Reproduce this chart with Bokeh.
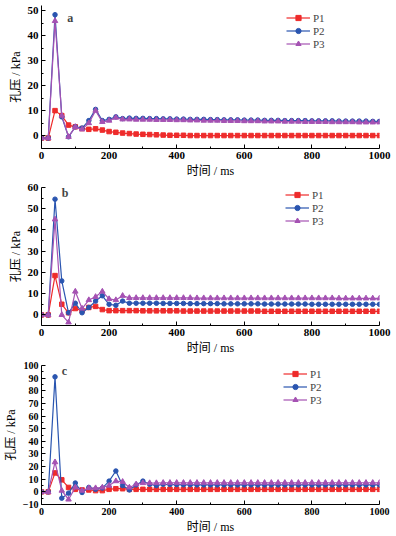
from bokeh.plotting import figure
from bokeh.layouts import column
from bokeh.models import Legend, LegendItem, Label, Range1d, FixedTicker
from bokeh.embed import file_html
from bokeh.resources import INLINE

# time samples (ms)
t_ms = list(range(0, 1001, 20))

# panel a
a_p1 = [-1.0, -1.0, 10.0, 8.0, 4.2, 3.5, 2.8, 2.5, 2.7, 2.2, 1.6, 1.3, 1.0, 0.8, 0.6, 0.5, 0.4, 0.3, 0.2, 0.1,
        0.1, 0.1, 0.0, 0.0, 0.0, 0.0, 0.0, 0.0, 0.0, 0.0, 0.0, 0.0, 0.0, 0.0, 0.0, 0.0, 0.0, 0.0, 0.0, 0.0,
        0.0, 0.0, 0.0, 0.0, 0.0, 0.0, 0.0, 0.0, 0.0, 0.0, 0.0]
a_p2 = [-1.0, -1.0, 48.5, 7.5, -0.5, 3.5, 3.0, 6.0, 10.5, 6.0, 6.5, 7.5, 6.8, 7.0, 6.9, 6.9, 6.8, 6.8, 6.7, 6.7,
        6.6, 6.6, 6.5, 6.5, 6.5, 6.4, 6.4, 6.3, 6.3, 6.3, 6.2, 6.2, 6.2, 6.1, 6.1, 6.1, 6.0, 6.0, 6.0, 6.0,
        5.9, 5.9, 5.9, 5.9, 5.8, 5.8, 5.8, 5.8, 5.8, 5.7, 5.7]
a_p3 = [-1.0, -1.0, 46.0, 8.0, -0.5, 3.5, 2.5, 5.0, 10.0, 5.5, 6.0, 7.2, 6.5, 6.5, 6.4, 6.4, 6.4, 6.3, 6.3, 6.3,
        6.2, 6.2, 6.1, 6.1, 6.0, 6.0, 6.0, 5.9, 5.9, 5.9, 5.8, 5.8, 5.8, 5.7, 5.7, 5.7, 5.6, 5.6, 5.6, 5.5,
        5.5, 5.5, 5.5, 5.4, 5.4, 5.4, 5.4, 5.3, 5.3, 5.3, 5.3]

# panel b
b_p1 = [0.0, 0.0, 18.5, 5.0, 1.0, 3.0, 2.0, 3.5, 4.0, 2.5, 2.0, 2.0, 2.0, 2.0, 2.0, 1.9, 1.9, 1.9, 1.9, 1.9,
        1.9, 1.8, 1.8, 1.8, 1.8, 1.8, 1.8, 1.8, 1.8, 1.8, 1.8, 1.8, 1.8, 1.7, 1.7, 1.7, 1.7, 1.7, 1.7, 1.7,
        1.7, 1.7, 1.7, 1.7, 1.7, 1.7, 1.7, 1.7, 1.7, 1.7, 1.7]
b_p2 = [0.0, 0.0, 54.5, 16.0, 1.0, 5.5, 1.0, 3.5, 6.5, 9.0, 5.0, 4.5, 6.5, 5.5, 5.5, 5.5, 5.5, 5.5, 5.4, 5.4,
        5.4, 5.4, 5.3, 5.3, 5.3, 5.3, 5.3, 5.2, 5.2, 5.2, 5.2, 5.2, 5.2, 5.1, 5.1, 5.1, 5.1, 5.1, 5.1, 5.1,
        5.0, 5.0, 5.0, 5.0, 5.0, 5.0, 5.0, 5.0, 5.0, 5.0, 5.0]
b_p3 = [0.0, 0.0, 45.0, 0.0, -3.5, 11.0, 3.0, 7.0, 8.5, 11.0, 7.5, 7.0, 9.0, 8.0, 8.0, 8.0, 8.0, 8.0, 8.0, 8.0,
        8.0, 8.0, 8.0, 7.9, 7.9, 7.9, 7.9, 7.9, 7.9, 7.9, 7.9, 7.9, 7.9, 7.9, 7.9, 7.9, 7.9, 7.9, 7.9, 7.9,
        7.9, 7.9, 7.9, 7.9, 7.8, 7.8, 7.8, 7.8, 7.8, 7.8, 7.8]

# panel c
c_p1 = [0.0, 0.0, 15.0, 9.5, 3.5, 2.0, 1.5, 1.5, 1.0, 1.0, 2.0, 2.5, 2.5, 2.0, 2.0, 2.0, 2.0, 2.0, 2.0, 2.0,
        2.0, 2.0, 2.0, 2.0, 2.0, 2.0, 2.0, 2.0, 2.0, 2.0, 2.0, 2.0, 2.0, 2.0, 2.0, 2.0, 2.0, 2.0, 2.0, 2.0,
        2.0, 2.0, 2.0, 2.0, 2.0, 2.0, 2.0, 2.0, 2.0, 2.0, 2.0]
c_p2 = [0.0, 0.0, 91.0, -5.0, -1.0, 7.0, -0.5, 3.5, 2.0, 3.0, 8.5, 16.5, 5.0, 1.5, 5.5, 8.5, 6.0, 5.0, 6.0, 5.8,
        5.7, 5.6, 5.6, 5.5, 5.5, 5.5, 5.5, 5.5, 5.5, 5.5, 5.5, 5.5, 5.5, 5.5, 5.5, 5.5, 5.5, 5.5, 5.5, 5.5,
        5.5, 5.5, 5.5, 5.5, 5.5, 5.5, 5.5, 5.5, 5.5, 5.5, 5.5]
c_p3 = [0.0, 0.0, 23.5, 1.0, -6.0, 3.5, 1.0, 3.0, 3.0, 3.5, 5.0, 8.5, 8.0, 3.5, 6.0, 7.0, 7.0, 7.0, 7.2, 7.2,
        7.2, 7.2, 7.2, 7.2, 7.2, 7.2, 7.2, 7.2, 7.2, 7.2, 7.2, 7.2, 7.2, 7.2, 7.2, 7.2, 7.2, 7.2, 7.2, 7.2,
        7.2, 7.2, 7.2, 7.2, 7.2, 7.2, 7.2, 7.2, 7.2, 7.2, 7.2]

series_names = ["P1", "P2", "P3"]
x_ticks = [0, 200, 400, 600, 800, 1000]
x_minor = [100, 300, 500, 700, 900]
panel_tags = ["a", "b", "c"]

COLORS = ["#ee2b2b", "#2a55b0", "#a552b3"]
MARKERS = ["square", "circle", "triangle"]
SERIF = "Liberation Serif"
MIXED = "Liberation Serif, Noto Sans CJK SC"


def make_panel(series, y0, y1, yticks, yminor, tag, tag_xy, height, top, bottom, legend_loc, tick_size):
    p = figure(width=393, height=height, output_backend="svg", toolbar_location=None,
               x_range=Range1d(0, 1000), y_range=Range1d(y0, y1),
               min_border_left=39, min_border_right=14, min_border_top=top, min_border_bottom=bottom)
    p.xgrid.visible = False
    p.ygrid.visible = False
    p.outline_line_color = None
    p.background_fill_color = "white"
    p.border_fill_color = "white"
    items = []
    for vals, name, c, m in zip(series, series_names, COLORS, MARKERS):
        r1 = p.line(t_ms, vals, line_color=c, line_width=1.2)
        sz = 5.5 if m == "triangle" else 4.5
        r2 = p.scatter(t_ms, vals, marker=m, size=sz, fill_color=c, line_color=c)
        items.append(LegendItem(label=name, renderers=[r1, r2]))
    leg = Legend(items=items, location=legend_loc, border_line_alpha=0,
                 background_fill_alpha=0, padding=0, margin=0, spacing=0,
                 glyph_width=24, glyph_height=13, label_height=13, label_standoff=3,
                 label_text_font=SERIF, label_text_font_size="11px",
                 label_text_line_height=1.0)
    p.add_layout(leg)
    p.xaxis.ticker = FixedTicker(ticks=x_ticks, minor_ticks=x_minor)
    p.yaxis.ticker = FixedTicker(ticks=yticks, minor_ticks=yminor)
    for ax in (p.xaxis[0], p.yaxis[0]):
        ax.major_tick_in = 4
        ax.major_tick_out = 0
        ax.minor_tick_in = 2
        ax.minor_tick_out = 0
        ax.axis_line_color = "black"
        ax.major_tick_line_color = "black"
        ax.minor_tick_line_color = "black"
        ax.major_label_text_font = SERIF
        ax.major_label_text_font_style = "bold"
        ax.major_label_text_font_size = tick_size
        ax.major_label_text_color = "black"
        ax.axis_label_text_font = MIXED
        ax.axis_label_text_font_style = "normal"
        ax.axis_label_text_font_size = "12px"
        ax.axis_label_text_color = "black"
        ax.major_label_standoff = 3
        ax.axis_label_standoff = 2
    p.xaxis.axis_label = "时间 / ms"
    p.yaxis.axis_label = "孔压 / kPa"
    p.add_layout(Label(x=tag_xy[0], y=tag_xy[1], text=tag, text_font=SERIF, text_font_style="bold",
                       text_font_size="12px", text_baseline="middle", text_align="center"))
    return p


pa = make_panel([a_p1, a_p2, a_p3], -5.2, 52.2, [0, 10, 20, 30, 40, 50], [5, 15, 25, 35, 45],
                panel_tags[0], (85, 47), 180, 5, 27, (245, 98), "11px")
pb = make_panel([b_p1, b_p2, b_p3], -5, 60, [0, 10, 20, 30, 40, 50, 60], [5, 15, 25, 35, 45, 55],
                panel_tags[1], (70, 57.5), 177, 7, 28, (244, 98), "11px")
pc = make_panel([c_p1, c_p2, c_p3], -10, 100, [-10, 0, 10, 20, 30, 40, 50, 60, 70, 80, 90, 100],
                [-5, 5, 15, 25, 35, 45, 55, 65, 75, 85, 95],
                panel_tags[2], (68, 96), 179, 8, 31, (242, 98), "10px")

layout = column(pa, pb, pc, spacing=0)
open("out.html", "w").write(file_html(layout, INLINE))
